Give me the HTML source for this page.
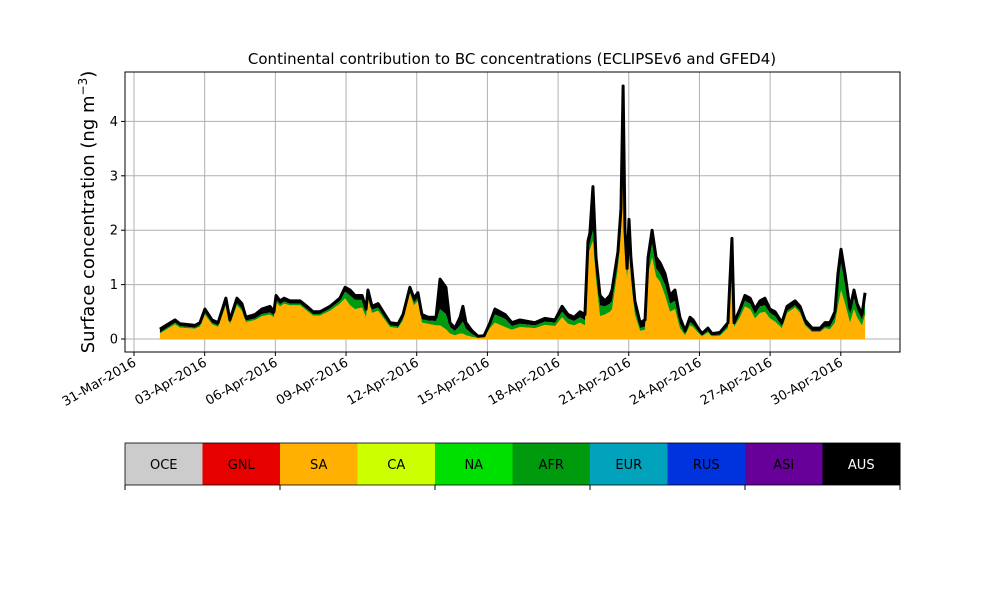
<!DOCTYPE html>
<html><head><meta charset="utf-8"><style>
body{margin:0;background:#fff;font-family:"Liberation Sans","DejaVu Sans",sans-serif}
svg text{font-family:"DejaVu Sans","Liberation Sans",sans-serif}
</style></head><body>
<svg id="c" width="1000" height="600" viewBox="0 0 1000 600"></svg>
<script>
const days=[1.10,1.74,1.95,2.59,2.80,3.01,3.31,3.57,3.90,4.07,4.37,4.58,4.75,5.14,5.43,5.77,5.94,6.03,6.20,6.37,6.62,7.05,7.34,7.60,7.89,8.32,8.74,8.96,9.17,9.38,9.68,9.85,9.93,10.10,10.36,10.65,10.87,11.21,11.42,11.71,11.88,12.05,12.22,12.48,12.82,12.99,13.24,13.41,13.62,13.84,13.96,14.09,14.35,14.60,14.86,15.11,15.32,15.75,16.04,16.38,17.02,17.44,17.87,18.17,18.42,18.68,18.93,19.14,19.27,19.35,19.48,19.61,19.78,19.99,20.20,20.29,20.54,20.67,20.76,20.84,20.93,21.01,21.09,21.26,21.48,21.69,21.82,21.99,22.16,22.33,22.54,22.75,22.96,23.17,23.39,23.60,23.73,23.94,24.11,24.36,24.53,24.87,25.21,25.38,25.47,25.72,25.93,26.15,26.36,26.57,26.78,26.99,27.21,27.50,27.72,28.06,28.27,28.48,28.78,29.12,29.33,29.54,29.75,29.88,30.01,30.18,30.39,30.56,30.69,30.90,31.03];
const total=[.18,.35,.28,.25,.30,.55,.35,.30,.75,.35,.75,.65,.40,.45,.55,.60,.50,.80,.70,.75,.70,.70,.60,.50,.50,.60,.75,.95,.90,.80,.80,.55,.90,.60,.65,.45,.30,.28,.45,.95,.75,.85,.45,.40,.40,1.10,.95,.30,.20,.40,.60,.30,.15,.05,.06,.30,.55,.45,.30,.35,.30,.38,.35,.60,.45,.40,.50,.45,1.80,1.95,2.80,1.50,.80,.70,.80,.90,1.60,2.40,4.65,2.00,1.30,2.20,1.50,.70,.30,.35,1.50,2.00,1.50,1.40,1.20,.80,.90,.40,.15,.40,.35,.20,.10,.20,.10,.12,.30,1.85,.30,.55,.80,.75,.55,.70,.75,.55,.50,.30,.60,.70,.60,.35,.20,.20,.30,.30,.50,1.20,1.65,1.20,.55,.90,.65,.45,.85];
const sa=[.10,.27,.21,.19,.23,.45,.27,.22,.62,.27,.62,.52,.31,.35,.42,.45,.40,.68,.60,.65,.62,.62,.52,.43,.43,.52,.65,.75,.62,.55,.58,.40,.75,.48,.52,.35,.22,.20,.35,.85,.62,.70,.30,.28,.25,.25,.18,.10,.07,.10,.10,.07,.04,.02,.03,.20,.30,.22,.17,.22,.20,.26,.24,.40,.28,.25,.30,.25,1.55,1.65,1.80,1.10,.42,.45,.50,.55,1.30,2.00,3.30,1.60,1.10,1.80,1.10,.45,.15,.17,1.20,1.50,1.15,1.05,.80,.50,.55,.20,.07,.25,.22,.12,.05,.12,.05,.06,.20,1.30,.22,.40,.60,.55,.38,.48,.50,.38,.32,.20,.48,.58,.48,.25,.13,.13,.20,.18,.30,.60,.90,.65,.30,.55,.40,.25,.45];
const afr=[.02,.03,.03,.02,.03,.04,.03,.03,.04,.03,.04,.04,.03,.03,.04,.04,.04,.05,.04,.04,.03,.03,.03,.03,.03,.04,.05,.12,.18,.17,.14,.08,.08,.06,.06,.04,.03,.03,.04,.04,.05,.06,.06,.06,.08,.30,.28,.12,.08,.15,.22,.12,.05,.01,.01,.05,.15,.15,.07,.06,.05,.06,.06,.10,.10,.08,.10,.10,.10,.12,.20,.15,.20,.15,.15,.15,.15,.20,.40,.15,.10,.15,.15,.10,.05,.06,.15,.25,.15,.15,.20,.15,.15,.08,.03,.06,.05,.03,.02,.03,.02,.02,.04,.10,.04,.07,.10,.10,.08,.12,.12,.10,.10,.04,.04,.04,.04,.03,.02,.02,.03,.05,.10,.35,.50,.35,.15,.20,.15,.10,.20];
const yTicks=[0,1,2,3,4];
const xTickDays=[0,3,6,9,12,15,18,21,24,27,30];
const xTickLabels=["31-Mar-2016","03-Apr-2016","06-Apr-2016","09-Apr-2016","12-Apr-2016","15-Apr-2016","18-Apr-2016","21-Apr-2016","24-Apr-2016","27-Apr-2016","30-Apr-2016"];
const regions=["OCE","GNL","SA","CA","NA","AFR","EUR","RUS","ASI","AUS"];
const regionColors=["#cccccc","#e60000","#ffb000","#ccff00","#00e000","#009a0e","#00a3bb","#0033dd","#660099","#000000"];
const labelColors=["#000","#000","#000","#000","#000","#000","#000","#000","#000","#fff"];

const NS="http://www.w3.org/2000/svg",svg=document.getElementById('c');
const L=125,R=900,T=72,B=352;
const X=d=>134+d*23.56, Y=v=>339-v*54.4;
function mk(t,a,p){const e=document.createElementNS(NS,t);for(const k in a)e.setAttribute(k,a[k]);(p||svg).appendChild(e);return e;}
yTicks.forEach(v=>{const g=mk('line',{x1:L,x2:R,y1:Y(v),y2:Y(v),stroke:'#b0b0b0','stroke-width':1});


const tk=mk('line',{x1:L-4,x2:L,y1:Y(v),y2:Y(v),stroke:'#000'});


const t=mk('text',{x:L-7,y:Y(v)+4.5,'text-anchor':'end','font-size':13});t.textContent=v;

});
xTickDays.forEach((d,i)=>{const g=mk('line',{x1:X(d),x2:X(d),y1:T,y2:B,stroke:'#b0b0b0','stroke-width':1});


const tk=mk('line',{x1:X(d),x2:X(d),y1:B,y2:B+4,stroke:'#000'});


const t=mk('text',{x:X(d)+3,y:B+13,'text-anchor':'end','font-size':13,transform:`rotate(-30 ${X(d)+3} ${B+13})`});t.textContent=xTickLabels[i];

});
function area(lo,hi,color,name){let d='M'+days.map((t,i)=>X(t)+','+Y(hi[i])).join('L');
for(let i=days.length-1;i>=0;i--)d+='L'+X(days[i])+','+Y(lo[i]);
const p=mk('path',{d:d+'Z',fill:color});

}
const zero=days.map(()=>0), s1=sa.map((v,i)=>v+afr[i]);
area(zero,sa,'#ffb000','sa-area');
area(sa,s1,'#009a0e','afr-area');
area(s1,total,'#000000','aus-area');
const ln=mk('path',{d:'M'+days.map((t,i)=>X(t)+','+Y(total[i])).join('L'),fill:'none',stroke:'#000','stroke-width':3,'stroke-linejoin':'round'});


const fr=mk('rect',{x:L,y:T,width:R-L,height:B-T,fill:'none',stroke:'#000','stroke-width':1});


const ti=mk('text',{x:512,y:64,'text-anchor':'middle','font-size':15});ti.textContent='Continental contribution to BC concentrations (ECLIPSEv6 and GFED4)';


const yl=mk('text',{x:94,y:212,'text-anchor':'middle','font-size':18,transform:'rotate(-90 94 212)'});
yl.innerHTML='Surface concentration (ng m<tspan dy="-7" font-size="12">−3</tspan><tspan dy="7">)</tspan>';


const cw=(R-L)/regions.length;
regions.forEach((r,i)=>{const x=L+i*cw;const c=mk('rect',{x:x,y:443,width:cw+0.5,height:42,fill:regionColors[i]});


const t=mk('text',{x:x+cw/2,y:469,'text-anchor':'middle','font-size':13,fill:labelColors[i]});t.textContent=r;

});
const cb=mk('rect',{x:L,y:443,width:R-L,height:42,fill:'none',stroke:'#000','stroke-width':0.8});


for(let i=0;i<=regions.length;i+=2){const t=mk('line',{x1:L+i*cw,x2:L+i*cw,y1:485,y2:490,stroke:'#000'});

}
</script>
</body></html>
